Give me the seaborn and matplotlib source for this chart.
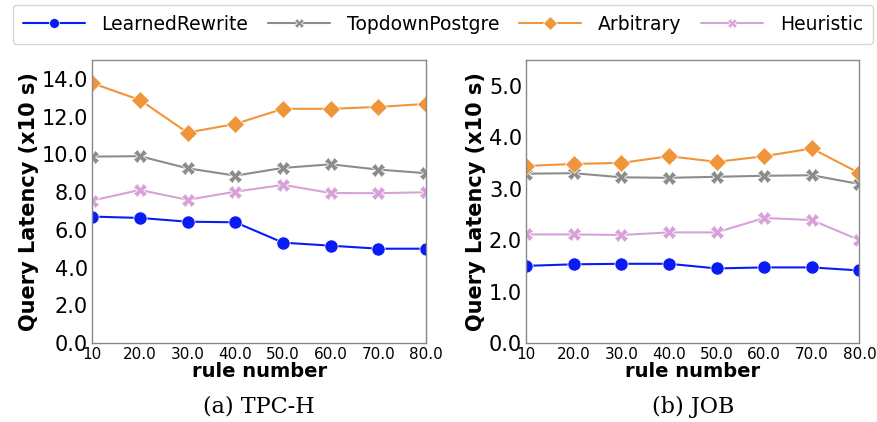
import matplotlib
matplotlib.use("Agg")
import matplotlib.pyplot as plt
import seaborn as sns
import pandas as pd

rule_numbers = [10, 20, 30, 40, 50, 60, 70, 80]
x_tick_labels = ["10", "20.0", "30.0", "40.0", "50.0", "60.0", "70.0", "80.0"]
methods = ["LearnedRewrite", "TopdownPostgre", "Arbitrary", "Heuristic"]

tpch_learned = [6.70, 6.63, 6.43, 6.40, 5.32, 5.16, 5.00, 5.00]
tpch_topdown = [9.88, 9.90, 9.26, 8.87, 9.28, 9.47, 9.19, 9.00]
tpch_arbitrary = [13.77, 12.88, 11.15, 11.61, 12.41, 12.41, 12.51, 12.67]
tpch_heuristic = [7.55, 8.11, 7.59, 8.02, 8.38, 7.95, 7.94, 7.99]

job_learned = [1.50, 1.53, 1.54, 1.54, 1.45, 1.47, 1.47, 1.41]
job_topdown = [3.29, 3.30, 3.22, 3.21, 3.23, 3.25, 3.26, 3.09]
job_arbitrary = [3.44, 3.48, 3.50, 3.63, 3.52, 3.63, 3.78, 3.30]
job_heuristic = [2.11, 2.11, 2.10, 2.15, 2.15, 2.43, 2.39, 2.00]

tpch_yticks = [0, 2, 4, 6, 8, 10, 12, 14]
job_yticks = [0, 1, 2, 3, 4, 5]
captions = ["(a) TPC-H", "(b) JOB"]

sns.set_theme(style="white")
plt.rcParams["font.family"] = ["DejaVu Sans"]
plt.rcParams["text.color"] = "black"
plt.rcParams["axes.labelcolor"] = "black"
plt.rcParams["xtick.color"] = "black"
plt.rcParams["ytick.color"] = "black"

palette = {"LearnedRewrite": "#0a1cf5", "TopdownPostgre": "#8c8c8c",
           "Arbitrary": "#f0953a", "Heuristic": "#d6a2d8"}
markers = {"LearnedRewrite": "o", "TopdownPostgre": "X",
           "Arbitrary": "D", "Heuristic": "X"}


def long_df(series):
    rows = []
    for m, vals in zip(methods, series):
        for x, v in zip(rule_numbers, vals):
            rows.append({"rule": x, "latency": v, "method": m})
    return pd.DataFrame(rows)


df_tpch = long_df([tpch_learned, tpch_topdown, tpch_arbitrary, tpch_heuristic])
df_job = long_df([job_learned, job_topdown, job_arbitrary, job_heuristic])

fig = plt.figure(figsize=(8.77, 4.22), dpi=100)
ax1 = fig.add_axes([0.105, 0.187, 0.381, 0.671])
ax2 = fig.add_axes([0.600, 0.187, 0.380, 0.671])

for ax, df, yt, ylim, cap in [(ax1, df_tpch, tpch_yticks, 15, captions[0]),
                              (ax2, df_job, job_yticks, 5.5, captions[1])]:
    sns.lineplot(data=df, x="rule", y="latency", hue="method", style="method",
                 hue_order=methods, style_order=methods, palette=palette,
                 markers=markers, dashes=False, markersize=9.5, linewidth=1.5,
                 markeredgewidth=0.5, ax=ax, legend=True)
    ax.set_xlim(10, 80)
    ax.set_ylim(0, ylim)
    ax.set_xticks(rule_numbers)
    ax.set_xticklabels(x_tick_labels, fontsize=11)
    ax.set_yticks(yt)
    ax.set_yticklabels([f"{v:.1f}" for v in yt], fontsize=15)
    ax.tick_params(axis="x", pad=1, length=2)
    ax.tick_params(axis="y", pad=1, length=2)
    ax.set_xlabel("rule number", fontsize=14, fontweight="bold", labelpad=0)
    ax.set_ylabel("Query Latency (x10 s)", fontsize=15, fontweight="bold", labelpad=2)
    for s in ax.spines.values():
        s.set_color("#888888")
        s.set_linewidth(1.0)
    ax.text(0.5, -0.225, cap, transform=ax.transAxes, ha="center", va="center",
            fontsize=16, family="DejaVu Serif")

handles, labels = ax1.get_legend_handles_labels()
ax1.get_legend().remove()
ax2.get_legend().remove()
fig.legend(handles, labels, loc="upper center", bbox_to_anchor=(0.505, 0.998),
           ncol=4, fontsize=13.5, frameon=True, columnspacing=1.05, handlelength=3.3,
           markerscale=0.75, borderaxespad=0.2, handletextpad=0.9, borderpad=0.55)

fig.savefig("out.png", dpi=100)
